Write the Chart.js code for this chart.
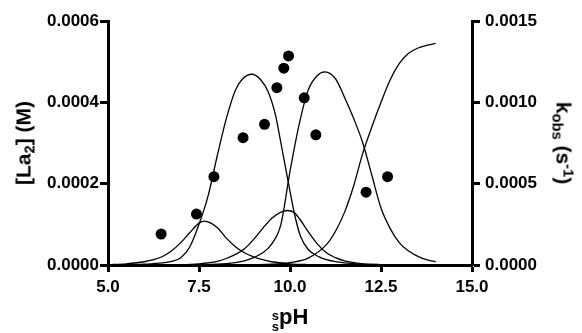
<!DOCTYPE html>
<html>
<head>
<meta charset="utf-8">
<script src="https://cdn.jsdelivr.net/npm/chart.js@4/dist/chart.umd.min.js"></script>
<style>
  html, body { margin:0; padding:0; background:#fff; }
  #wrap { position:relative; width:582px; height:333px; overflow:hidden; }
  canvas { position:absolute; left:0; top:0; }
  .t { position:absolute; font-family:'Liberation Sans', Arial, sans-serif; font-weight:bold; color:#000; white-space:nowrap; line-height:1; }
  .sub { font-size:70%; position:relative; top:0.3em; }
  .sup { font-size:70%; position:relative; top:-0.5em; }
</style>
</head>
<body>
<div id="wrap">
<canvas id="c" width="582" height="333"></canvas>
<div class="t" id="ytl" style="left:23px; top:143px; font-size:21px; transform:translate(-50%,-50%) rotate(-90deg);">[La<span class="sub">2</span>] (M)</div>
<div class="t" id="ytr" style="left:564px; top:143px; font-size:21px; transform:translate(-50%,-50%) rotate(90deg);">k<span class="sub">obs</span> (s<span class="sup">-1</span>)</div>
<div class="t" id="xt" style="left:290px; top:319px; font-size:22px; transform:translate(-50%,-50%);"><span style="display:inline-block; font-size:13px; line-height:11px; text-align:center; vertical-align:-7px;">s<br>s</span>pH</div>
</div>
<script>
// ---- data ----
const xTicks = [5.0, 7.5, 10.0, 12.5, 15.0];
const leftTicks = [0.0000, 0.0002, 0.0004, 0.0006];
const rightTicks = [0.0000, 0.0005, 0.0010, 0.0015];

// observed kobs points (right axis)
const obsPH   = [6.46, 7.43, 7.91, 8.71, 9.30, 9.64, 9.83, 9.96, 10.39, 10.71, 12.09, 12.68];
const obsKobs = [0.00019, 0.000313, 0.000543, 0.000783, 0.000865, 0.00109, 0.00121, 0.001285, 0.001028, 0.0008, 0.000448, 0.000543];

// species curves (left axis, [La2] in M)
const curveA_pH = [5.0, 5.5, 6.0, 6.25, 6.5, 6.75, 7.0, 7.25, 7.5, 7.65, 7.8, 8.0, 8.25, 8.5, 8.75, 9.0, 9.25, 9.5, 10.0, 10.5, 11.0, 12.0, 13.0, 14.0];
const curveA    = [0.000001, 0.000003, 0.000008, 0.000013, 0.000021, 0.000035, 0.000055, 0.00008, 0.000103, 0.000108, 0.000104, 0.000092, 0.000066, 0.000045, 0.00003, 0.00002, 0.000013, 0.000008, 0.000003, 0.000001, 0, 0, 0, 0];

const curveB_pH = [5.0, 5.5, 6.0, 6.5, 6.75, 7.0, 7.25, 7.5, 7.75, 8.0, 8.25, 8.5, 8.7, 8.95, 9.2, 9.4, 9.6, 9.75, 9.95, 10.15, 10.3, 10.5, 10.8, 11.0, 11.5, 12.0, 13.0, 14.0];
const curveB    = [0, 0.000001, 0.000002, 0.000005, 0.000009, 0.000018, 0.000045, 0.0001, 0.00017, 0.000268, 0.00036, 0.00043, 0.000458, 0.000469, 0.000455, 0.000426, 0.000369, 0.0003, 0.000205, 0.000115, 0.000068, 0.000038, 0.00002, 0.000013, 0.000005, 0.000002, 0, 0];

const curveC_pH = [5.0, 7.0, 7.5, 8.0, 8.25, 8.5, 8.75, 9.0, 9.25, 9.5, 9.75, 9.93, 10.1, 10.25, 10.5, 10.75, 11.0, 11.25, 11.5, 12.0, 12.5, 13.0, 14.0];
const curveC    = [0, 0.000001, 0.000003, 0.000009, 0.000016, 0.000026, 0.00004, 0.000063, 0.00009, 0.000115, 0.00013, 0.000134, 0.00013, 0.000115, 0.000082, 0.000052, 0.00003, 0.000018, 0.00001, 0.000003, 0.000001, 0, 0];

const curveD_pH = [5.0, 7.5, 8.0, 8.5, 8.75, 9.0, 9.25, 9.5, 9.75, 10.0, 10.25, 10.5, 10.75, 10.96, 11.25, 11.5, 11.75, 12.0, 12.25, 12.5, 12.75, 13.0, 13.25, 13.5, 13.75, 14.0];
const curveD    = [0, 0.000001, 0.000002, 0.000006, 0.00001, 0.000018, 0.00003, 0.000052, 0.0001, 0.00023, 0.000345, 0.00043, 0.000466, 0.000475, 0.000458, 0.000412, 0.00036, 0.0003, 0.00022, 0.00014, 0.00009, 0.000055, 0.000035, 0.000022, 0.000013, 0.000008];

const curveE_pH = [5.0, 8.0, 9.0, 9.5, 10.0, 10.5, 11.0, 11.25, 11.5, 11.75, 12.0, 12.25, 12.5, 12.75, 13.0, 13.25, 13.5, 13.75, 14.0];
const curveE    = [0, 0, 0.000001, 0.000002, 0.000006, 0.000017, 0.00005, 0.000083, 0.00013, 0.000195, 0.000275, 0.00034, 0.0004, 0.000455, 0.000495, 0.00052, 0.000533, 0.00054, 0.000545];

// ---- build chart ----
const toXY = (xs, ys) => xs.map((x, i) => ({ x: x, y: ys[i] }));
const curveDS = (xs, ys) => ({
  data: toXY(xs, ys), yAxisID: 'y', showLine: true, pointRadius: 0,
  borderColor: '#000', borderWidth: 1.3, cubicInterpolationMode: 'monotone', fill: false
});
const tickFont = { family: "'Liberation Sans', Arial, sans-serif", weight: 'bold', size: 17 };
const fixedTicks = (arr) => (scale) => { scale.ticks = arr.map(v => ({ value: v })); };

new Chart(document.getElementById('c'), {
  type: 'scatter',
  data: {
    datasets: [
      curveDS(curveA_pH, curveA),
      curveDS(curveB_pH, curveB),
      curveDS(curveC_pH, curveC),
      curveDS(curveD_pH, curveD),
      curveDS(curveE_pH, curveE),
      { data: toXY(obsPH, obsKobs), yAxisID: 'y2', showLine: false, pointRadius: 5.5,
        pointBackgroundColor: '#000', pointBorderColor: '#000', pointBorderWidth: 0 }
    ]
  },
  options: {
    responsive: false, animation: false, devicePixelRatio: 1,
    layout: { padding: { top: 21, left: 0, right: 0, bottom: 0 } },
    plugins: { legend: { display: false }, tooltip: { enabled: false } },
    scales: {
      x: {
        type: 'linear', min: 5, max: 15,
        afterBuildTicks: fixedTicks(xTicks),
        afterFit: (s) => { s.height = 68; },
        border: { color: '#000', width: 3 },
        grid: { drawOnChartArea: false, drawTicks: true, tickLength: 7, tickWidth: 3, tickColor: '#000', color: '#000' },
        ticks: { font: tickFont, color: '#000', padding: 5, maxRotation: 0, callback: (v) => Number(v).toFixed(1) }
      },
      y: {
        type: 'linear', position: 'left', min: 0, max: 0.0006,
        afterBuildTicks: fixedTicks(leftTicks),
        afterFit: (s) => { s.width = 108; },
        border: { color: '#000', width: 3 },
        grid: { drawOnChartArea: false, drawTicks: true, tickLength: 8, tickWidth: 3, tickColor: '#000', color: '#000' },
        ticks: { font: tickFont, color: '#000', padding: 1, callback: (v) => Number(v).toFixed(4) }
      },
      y2: {
        type: 'linear', position: 'right', min: 0, max: 0.0015,
        afterBuildTicks: fixedTicks(rightTicks),
        afterFit: (s) => { s.width = 110; },
        border: { color: '#000', width: 3 },
        grid: { drawOnChartArea: false, drawTicks: true, tickLength: 8, tickWidth: 3, tickColor: '#000', color: '#000' },
        ticks: { font: tickFont, color: '#000', padding: 5, callback: (v) => Number(v).toFixed(4) }
      }
    }
  }
});
</script>
</body>
</html>
